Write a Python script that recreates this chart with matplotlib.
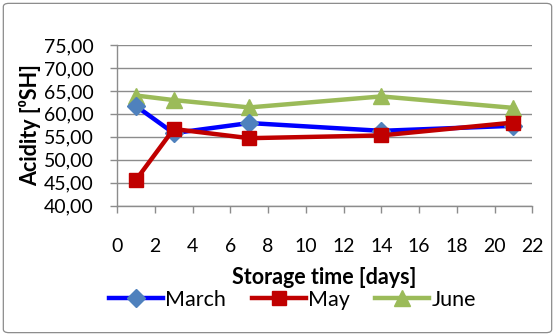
import matplotlib
matplotlib.use("Agg")
import matplotlib.pyplot as plt
from matplotlib.ticker import FuncFormatter, MultipleLocator
from matplotlib.patches import FancyBboxPatch

plt.rcParams['font.family'] = ['Lato', 'DejaVu Sans']

days = [1, 3, 7, 14, 21]
march = [61.7, 55.8, 58.0, 56.3, 57.4]
may = [45.6, 56.7, 54.7, 55.3, 58.1]
june = [64.0, 63.0, 61.4, 63.8, 61.3]

fig = plt.figure(figsize=(5.55, 3.36), dpi=100)
border = FancyBboxPatch((0.006, 0.01), 0.988, 0.98, boxstyle="round,pad=0,rounding_size=0.01",
                        transform=fig.transFigure, fill=False, edgecolor='#8c8c8c', linewidth=0.9)
fig.patches.append(border)

ax = fig.add_axes([0.211, 0.388, 0.748, 0.478])

ax.plot(days, march, color='#0000FF', lw=3.2, marker='D', ms=9.5,
        mfc='#4F81BD', mec='#4F81BD', label='March', zorder=3)
ax.plot(days, may, color='#C00000', lw=3.2, marker='s', ms=10,
        mfc='#C00000', mec='#C00000', label='May', zorder=4)
ax.plot(days, june, color='#9BBB59', lw=3.2, marker='^', ms=12,
        mfc='#9BBB59', mec='#9BBB59', label='June', zorder=2)

ax.set_xlim(0, 22)
ax.set_ylim(40, 75)
ax.xaxis.set_major_locator(MultipleLocator(2))
ax.yaxis.set_major_locator(MultipleLocator(5))
ax.yaxis.set_major_formatter(FuncFormatter(lambda v, p: f"{v:.2f}".replace('.', ',')))
ax.grid(axis='y', color='#8c8c8c', lw=1.0)
ax.set_axisbelow(True)
for s in ['top', 'right']:
    ax.spines[s].set_visible(False)
for s in ['left', 'bottom']:
    ax.spines[s].set_color('#8c8c8c')
    ax.spines[s].set_linewidth(1.0)
ax.tick_params(axis='both', colors='#8c8c8c', labelcolor='black', labelsize=14, length=5, width=1.0)
ax.tick_params(axis='x', pad=18)
ax.tick_params(axis='y', pad=12)

ax.set_xlabel('Storage time [days]', fontsize=15.5, fontweight='bold', labelpad=9)
ax.set_ylabel('Acidity [⁰SH]', fontsize=15.5, fontweight='bold', labelpad=2)

fig.legend(loc='center', bbox_to_anchor=(0.527, 0.108), ncol=3, frameon=False,
           fontsize=15.5, handlelength=2.5, handletextpad=0.1, columnspacing=1.2)

fig.savefig('out.png', dpi=100)
